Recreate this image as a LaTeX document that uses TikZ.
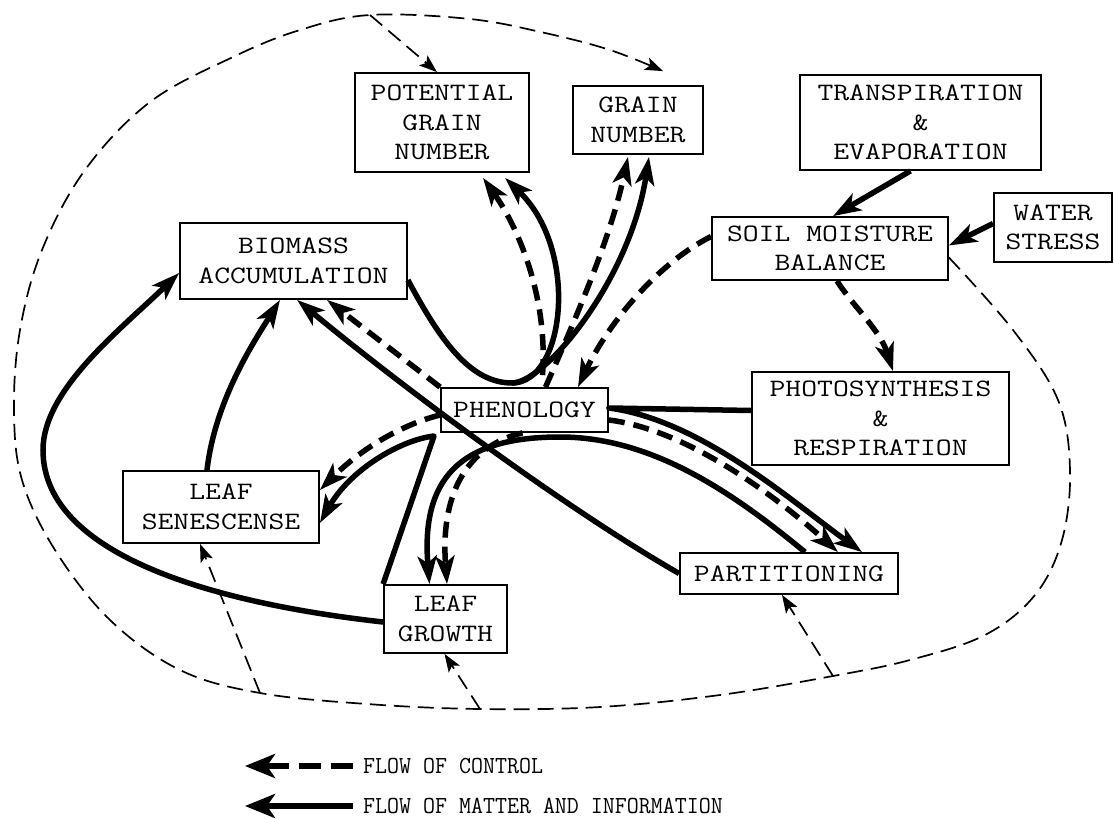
\documentclass[tikz,border=0pt]{standalone}
\usepackage{fontspec}
\newfontfamily\boxfont[FakeStretch=1.23]{Latin Modern Mono}
\newfontfamily\legendfont[FakeStretch=0.95]{Latin Modern Mono}
\usetikzlibrary{arrows.meta}

\begin{document}
\begin{tikzpicture}
[x=1pt, y=-1pt,
box/.style={draw, line width=1.8pt, inner sep=0pt, align=center, font=\fontsize{25}{29.5}\selectfont\boxfont},
flow/.style={line width=5.5pt, -{Stealth[length=28pt, width=19pt, inset=7pt]}},
ctrl/.style={flow, dash pattern=on 16pt off 9pt},
feed/.style={line width=1.7pt, dash pattern=on 16pt off 8pt, -{Stealth[length=18pt, width=13pt, inset=4pt]}},
legend/.style={anchor=west, inner sep=0pt, font=\fontsize{24.5}{28}\selectfont\legendfont}]

\useasboundingbox (0,0) rectangle (1114,819);

% boxes
\node[box, minimum width=174pt, minimum height=99pt] (pgn) at (442,122.5) {POTENTIAL\\GRAIN\\NUMBER};
\node[box, minimum width=130pt, minimum height=68pt] (gn) at (638,120) {GRAIN\\NUMBER};
\node[box, minimum width=241pt, minimum height=95pt] (te) at (920.5,122.5) {TRANSPIRATION\\\&\\EVAPORATION};
\node[box, minimum width=236pt, minimum height=63pt] (smb) at (830,248.5) {SOIL MOISTURE\\BALANCE};
\node[box, minimum width=118pt, minimum height=69pt] (ws) at (1053,227.5) {WATER\\STRESS};
\node[box, minimum width=227pt, minimum height=76pt] (ba) at (293.5,261) {BIOMASS\\ACCUMULATION};
\node[box, minimum width=167pt, minimum height=44pt] (ph) at (524.5,410) {PHENOLOGY};
\node[box, minimum width=257pt, minimum height=93pt] (pr) at (880.5,418.5) {PHOTOSYNTHESIS\\\&\\RESPIRATION};
\node[box, minimum width=218pt, minimum height=41pt] (pa) at (789,573.5) {PARTITIONING};
\node[box, minimum width=196pt, minimum height=72pt] (ls) at (221,507) {LEAF\\SENESCENSE};
\node[box, minimum width=123pt, minimum height=68pt] (lg) at (445.5,619) {LEAF\\GROWTH};

% water
\draw[flow] ([xshift=-10pt]te.south) -- ([xshift=3pt]smb.north);
\draw[flow] ([yshift=4pt]ws.west) -- ([yshift=3pt]smb.east);
\draw[ctrl] ([yshift=12pt]smb.west) .. controls (660,262) and (610,320) .. ([xshift=53.5pt]ph.north);
\draw[ctrl] ([xshift=7pt]smb.south) .. controls (852,305) and (880,330) .. ([xshift=12.5pt]pr.north);

% partitioning
\draw[flow, line join=round] ([yshift=8pt]pr.west) -- ([yshift=2pt]ph.east) .. controls (700,420) and (790,500) .. ([xshift=73pt]pa.north);
\draw[ctrl] ([yshift=-10pt]ph.east) .. controls (690,430) and (780,500) .. ([xshift=49pt]pa.north);
\draw[flow] ([xshift=16pt]pa.north) .. controls (730,490) and (650,437) .. (560,437) .. controls (470,437) and (420,470) .. ([xshift=-16pt]lg.north);
\draw[flow] (pa.west) .. controls (560,505) and (400,385) .. ([xshift=3.5pt]ba.south);

% phenology
\draw[ctrl] ([xshift=-2pt]ph.south) .. controls (470,445) and (440,490) .. ([xshift=1.5pt]lg.north);
\draw[ctrl] (ph.north west) -- ([xshift=33.5pt]ba.south);
\draw[ctrl] ([yshift=-5pt]ph.west) .. controls (400,425) and (360,450) .. ([yshift=17pt]ls.east);
\draw[ctrl] ([xshift=18pt,yshift=12pt]ph.north) .. controls (548,300) and (520,230) .. ([xshift=41pt,yshift=-5pt]pgn.south);
\draw[ctrl] ([xshift=21pt]ph.north) .. controls (575,320) and (610,240) .. ([xshift=-10pt,yshift=-2pt]gn.south);

% biomass to grain
\coordinate (loop) at (512,383);
\draw[flow] ([yshift=-19pt]ba.east) .. controls (440,340) and (470,383) .. (loop) .. controls (565,383) and (580,250) .. ([xshift=63pt,yshift=-5pt]pgn.south);
\draw[flow] (loop) .. controls (545,383) and (630,280) .. ([xshift=11pt,yshift=-2pt]gn.south);

% leaves
\draw[flow] ([yshift=-3pt]lg.west) .. controls (230,605) and (43,560) .. (43,450) .. controls (43,390) and (120,330) .. ([yshift=-12pt]ba.west);
\draw[flow, line join=round] (lg.north west) -- (434,436) .. controls (400,440) and (350,470) .. ([yshift=-16pt]ls.east);
\draw[flow] ([xshift=-14pt]ls.north) .. controls (215,400) and (255,340) .. ([xshift=-13.5pt]ba.south);

% outer control loop
\coordinate (loopstart) at ([yshift=-9pt]smb.east);
\coordinate (loopend) at ([xshift=25pt,yshift=14pt]gn.north);
\draw[feed] plot[smooth, tension=0.6] coordinates {(loopstart) (1013,330) (1058,400) (1070,470) (1062,540) (1035,595) (985,635) (910,660) (833,676) (720,695) (600,707) (480,709) (367,704) (260,693) (180,670) (110,620) (55,550) (22,480) (14,410) (20,330) (42,250) (85,170) (150,102) (233,57) (300,30) (370,15) (470,19) (545,33) (610,50) (loopend)};
\coordinate (ftop) at (370,15);
\coordinate (fls) at (260,693);
\coordinate (flg) at (480,709);
\coordinate (fpa) at (833,676);
\draw[feed] (ftop) -- ([xshift=-5pt]pgn.north);
\draw[feed] (fls) -- ([xshift=-21pt]ls.south);
\draw[feed] (flg) -- ([xshift=-1pt]lg.south);
\draw[feed] (fpa) -- ([xshift=-7pt]pa.south);

% legend
\node[legend] (lctrl) at (363,766) {FLOW OF CONTROL};
\node[legend] (lmat) at (363,806) {FLOW OF MATTER AND INFORMATION};
\draw[ctrl, line width=6.5pt, dash pattern=on 22pt off 10pt, -{Stealth[length=30pt, width=24pt, inset=8pt]}] ([xshift=-10pt]lctrl.west) -- ([xshift=-118pt]lctrl.west);
\draw[flow, line width=6.5pt, -{Stealth[length=30pt, width=24pt, inset=8pt]}] ([xshift=-10pt]lmat.west) -- ([xshift=-118pt]lmat.west);
\end{tikzpicture}
\end{document}
